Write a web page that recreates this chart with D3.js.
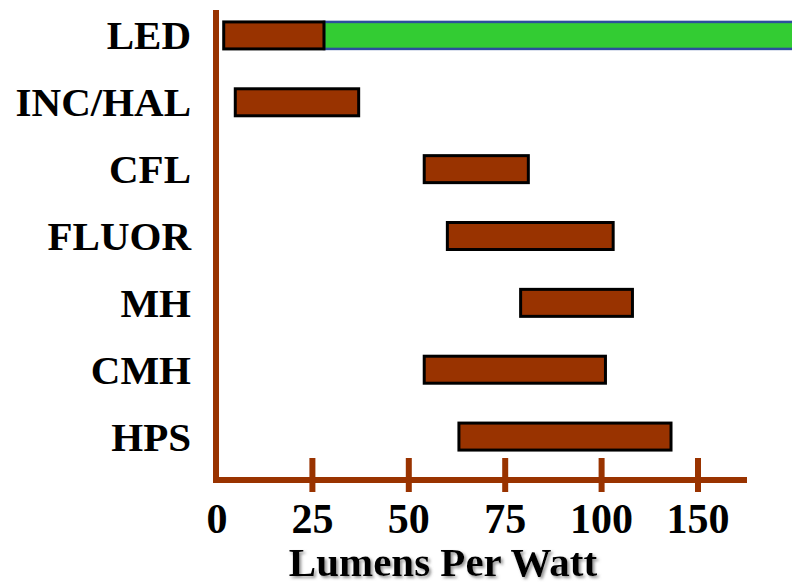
<!DOCTYPE html>
<html>
<head>
<meta charset="utf-8">
<script src="https://cdn.jsdelivr.net/npm/d3@7"></script>
<style>
  html, body { margin: 0; padding: 0; background: #fff; }
  svg { display: block; }
</style>
</head>
<body>
<svg id="chart" width="792" height="584"></svg>
<script>
const categories = ["LED", "INC/HAL", "CFL", "FLUOR", "MH", "CMH", "HPS"];
const rangeLow  = [2, 5, 54, 60, 79, 54, 63];
const rangeHigh = [28, 37, 81, 103, 108, 101, 118];
const ledFutureLow = [28];
const ledFutureHigh = [150];
const tickPositions = [0, 25, 50, 75, 100, 125];
const tickLabels = ["0", "25", "50", "75", "100", "150"];
const axisTitle = "Lumens Per Watt";

const svg = d3.select("#chart");
const brown = "#993300";
const font = "'Liberation Serif', 'Times New Roman', serif";

const defs = svg.append("defs");
const f = defs.append("filter").attr("id", "shadow").attr("x", "-10%").attr("y", "-20%").attr("width", "120%").attr("height", "140%");
f.append("feDropShadow").attr("dx", 2).attr("dy", 2).attr("stdDeviation", 1.5)
  .attr("flood-color", "#777").attr("flood-opacity", 0.8);

const x = d3.scaleLinear().domain([0, 125]).range([216, 698]);
const y = d3.scalePoint().domain(categories).range([2, 470]).padding(0.5);
const barH = 27;

// axes lines
svg.append("line").attr("x1", 216).attr("x2", 216).attr("y1", 10).attr("y2", 483)
  .attr("stroke", brown).attr("stroke-width", 6);
svg.append("line").attr("x1", 213).attr("x2", 747).attr("y1", 480).attr("y2", 480)
  .attr("stroke", brown).attr("stroke-width", 6);

// tick marks
svg.selectAll(".tickmark").data(tickPositions.filter(d => d > 0)).join("line")
  .attr("class", "tickmark")
  .attr("x1", d => x(d)).attr("x2", d => x(d))
  .attr("y1", 458).attr("y2", 492)
  .attr("stroke", brown).attr("stroke-width", 6);

// tick labels
svg.selectAll(".ticklabel").data(tickPositions).join("text")
  .attr("class", "ticklabel")
  .attr("x", d => x(d) + (d === 0 ? 1 : 0))
  .attr("y", 533)
  .attr("text-anchor", "middle")
  .attr("font-family", font).attr("font-weight", "bold").attr("font-size", 42)
  .attr("fill", "#000")
  .text((d, i) => tickLabels[i]);

// category labels
svg.selectAll(".catlabel").data(categories).join("text")
  .attr("class", "catlabel")
  .attr("x", 191)
  .attr("y", d => y(d) + 14)
  .attr("text-anchor", "end")
  .attr("font-family", font).attr("font-weight", "bold").attr("font-size", 41)
  .attr("fill", "#000")
  .text(d => d);

// LED future green bar
svg.selectAll(".green").data(ledFutureLow).join("rect")
  .attr("class", "green")
  .attr("x", (d) => x(d))
  .attr("y", y("LED") - barH / 2)
  .attr("width", (d, i) => x(ledFutureHigh[i]) - x(d))
  .attr("height", barH)
  .attr("fill", "#33cc33")
  .attr("stroke", "#2d4f9e").attr("stroke-width", 2.5);

// brown range bars
svg.selectAll(".bar").data(categories).join("rect")
  .attr("class", "bar")
  .attr("x", (d, i) => x(rangeLow[i]))
  .attr("y", d => y(d) - barH / 2)
  .attr("width", (d, i) => x(rangeHigh[i]) - x(rangeLow[i]))
  .attr("height", barH)
  .attr("fill", brown)
  .attr("stroke", "#000").attr("stroke-width", 3);

// axis title
svg.append("text")
  .attr("x", 443).attr("y", 576)
  .attr("text-anchor", "middle")
  .attr("font-family", font).attr("font-weight", "bold").attr("font-size", 41)
  .attr("fill", "#000")
  .attr("filter", "url(#shadow)")
  .text(axisTitle);
</script>
</body>
</html>
